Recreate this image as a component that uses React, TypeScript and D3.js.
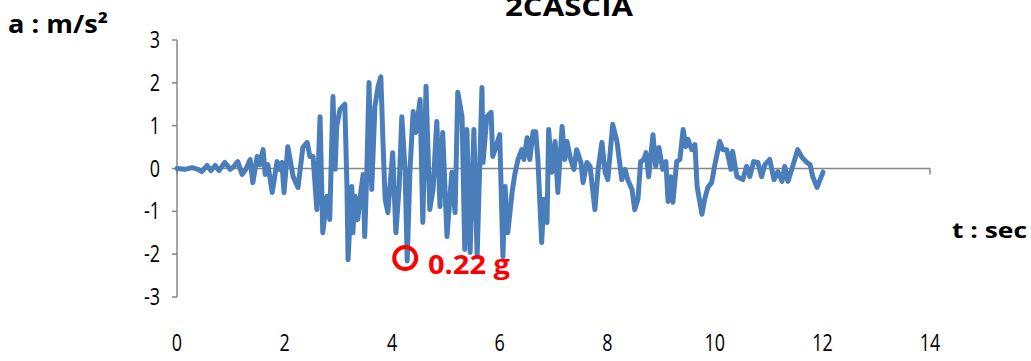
import React from "react";
import * as d3 from "d3";

// Ground acceleration record, 2CASCIA (time in s, acceleration in m/s²)
const timeSec: number[] = [
  0, 0.15, 0.28, 0.39, 0.46, 0.56, 0.63, 0.71, 0.78, 0.89, 0.99, 1.06, 1.13, 1.21, 1.28, 1.36,
  1.41, 1.49, 1.54, 1.6, 1.64, 1.69, 1.77, 1.86, 1.91, 1.95, 1.99, 2.06, 2.16, 2.25, 2.34, 2.42,
  2.47, 2.53, 2.6, 2.66, 2.71, 2.79, 2.84, 2.9, 2.94, 2.97, 3.03, 3.12, 3.16, 3.18, 3.25, 3.27,
  3.31, 3.36, 3.4, 3.46, 3.49, 3.53, 3.57, 3.62, 3.68, 3.74, 3.79, 3.83, 3.87, 3.92, 4.01, 4.07,
  4.13, 4.18, 4.24, 4.28, 4.33, 4.39, 4.44, 4.52, 4.57, 4.63, 4.7, 4.76, 4.83, 4.89, 4.94, 5.02,
  5.11, 5.17, 5.22, 5.3, 5.35, 5.39, 5.45, 5.52, 5.58, 5.67, 5.69, 5.76, 5.84, 5.87, 5.93, 6.0,
  6.06, 6.1, 6.15, 6.23, 6.28, 6.34, 6.41, 6.45, 6.51, 6.56, 6.62, 6.67, 6.71, 6.78, 6.82, 6.88,
  6.91, 6.97, 7.03, 7.08, 7.16, 7.21, 7.25, 7.32, 7.38, 7.43, 7.51, 7.55, 7.62, 7.68, 7.77, 7.83,
  7.9, 7.96, 8.01, 8.1, 8.18, 8.27, 8.33, 8.38, 8.46, 8.51, 8.57, 8.62, 8.68, 8.72, 8.77, 8.85,
  8.9, 8.96, 9.03, 9.09, 9.13, 9.18, 9.22, 9.29, 9.35, 9.41, 9.46, 9.5, 9.57, 9.63, 9.67, 9.76,
  9.81, 9.87, 9.94, 10.0, 10.09, 10.15, 10.22, 10.3, 10.33, 10.41, 10.52, 10.59, 10.65, 10.72,
  10.8, 10.87, 10.93, 11.02, 11.1, 11.17, 11.25, 11.3, 11.36, 11.43, 11.54, 11.62, 11.71, 11.77,
  11.82, 11.9, 12.01,
];

const accel: number[] = [
  0, -0.02, 0.02, -0.02, -0.07, 0.07, -0.05, 0.07, -0.05, 0.14, -0.02, 0.05, 0.16, -0.14, -0.02, 0.21,
  -0.33, 0.28, 0.09, 0.44, -0.14, 0.09, -0.56, 0.16, -0.02, 0.14, -0.56, 0.51, -0.19, -0.44, 0.49, 0.61,
  0.28, 0.28, -0.96, 1.21, -1.5, -0.65, -1.19, 1.68, -0.02, 0.98, 1.38, 1.5, -0.42, -2.13, -0.42, -1.5,
  -0.65, -1.19, -0.72, -0.14, -1.59, -0.02, 2.01, -0.49, 1.45, 1.92, 2.14, 0.61, -0.72, -1.03, 0.37, -1.5,
  -0.42, 1.21, -0.02, -2.16, -0.09, 1.33, 0.84, 1.61, -1.26, 1.92, -0.96, -0.49, 1.1, -0.89, 0.84, -1.59,
  -0.09, -1.03, 1.78, 1.21, -1.89, 0.91, -1.96, 0.91, -2.06, 1.89, 0.14, 1.21, 1.31, 0.28, 0.51, 0.79,
  -2.06, -0.42, -1.5, -0.56, -0.14, 0.21, 0.44, 0.21, 0.72, 0.21, 0.86, 0.86, 0.21, -1.73, -0.72, -1.26,
  0.91, -0.09, 0.63, -0.56, 0.98, 0.21, 0.63, 0.21, -0.02, 0.44, 0.14, -0.33, 0.14, 0.05, -0.96, -0.02,
  0.61, -0.09, -0.26, 1.03, 0.63, -0.26, -0.02, -0.26, -0.49, -0.96, -0.72, 0.16, 0.21, 0.37, -0.19, 0.79,
  0.05, 0.49, -0.02, 0.16, -0.77, -0.19, -0.79, 0.16, 0.21, 0.91, 0.51, 0.68, 0.44, 0.56, -0.42, -1.07,
  -0.72, -0.44, -0.33, 0.09, 0.63, 0.44, 0.44, -0.02, 0.4, -0.19, -0.26, 0.05, -0.19, 0.16,
  0.14, -0.19, 0.09, 0.21, -0.26, -0.07, -0.3, 0.05, -0.3, -0.02, 0.44, 0.26, 0.14, 0.09,
  -0.19, -0.44, -0.09,
];

const xTicks: number[] = [0, 2, 4, 6, 8, 10, 12, 14];
const yTicks: number[] = [-3, -2, -1, 0, 1, 2, 3];

const title = "2CASCIA";
const yTitle = "a : m/s²";
const xTitle = "t : sec";
const pgaG = 0.22;
const pgaLabel = `${pgaG} g`;

const W = 1031;
const H = 361;
const LINE = "#4A7EBB";
const AXIS = "#868686";
const RED = "#FF0000";
const FONT = "'Open Sans', 'Noto Sans', sans-serif";

export default function App() {
  const x = d3.scaleLinear().domain([0, 14]).range([177, 930]);
  const y = d3.scaleLinear().domain([-3, 3]).range([297, 40]);

  const pts: [number, number][] = timeSec.map((t, i) => [t, accel[i]]);
  const line = d3
    .line<[number, number]>()
    .x((d) => x(d[0]))
    .y((d) => y(d[1]));

  // strongest negative peak, highlighted with the PGA note
  const peakIdx = d3.minIndex(accel);
  const px = x(timeSec[peakIdx]);
  const py = y(accel[peakIdx]);

  const y0 = y(0);

  return (
    <svg
      width={W}
      height={H}
      viewBox={`0 0 ${W} ${H}`}
      style={{ position: "absolute", left: 0, top: 0, background: "#fff" }}
    >
      <rect width={W} height={H} fill="#fff" />

      {/* title, partly cut at the top edge */}
      <text
        x={505}
        y={16}
        fontFamily={FONT}
        fontWeight={700}
        fontSize={26}
        textLength={128}
        lengthAdjust="spacingAndGlyphs"
        fill="#000"
      >
        {title}
      </text>

      {/* y axis */}
      <line x1={x(0)} x2={x(0)} y1={y(3)} y2={y(-3)} stroke={AXIS} strokeWidth={1.5} />
      {yTicks.map((v) => (
        <g key={`yt${v}`}>
          <line x1={x(0) - 5} x2={x(0)} y1={y(v)} y2={y(v)} stroke={AXIS} strokeWidth={1.5} />
          <g transform={`translate(${x(0) - 17},${y(v) + 8}) scale(0.78,1.05)`}>
            <text textAnchor="end" fontFamily={FONT} fontSize={23} fill="#000">
              {v}
            </text>
          </g>
        </g>
      ))}

      {/* x axis along a = 0 */}
      <line x1={x(0)} x2={x(14)} y1={y0} y2={y0} stroke={AXIS} strokeWidth={1.5} />
      {xTicks.map((v) => (
        <g key={`xt${v}`}>
          <line x1={x(v)} x2={x(v)} y1={y0} y2={y0 + 6} stroke={AXIS} strokeWidth={1.5} />
          <g transform={`translate(${x(v)},${351}) scale(0.78,1.05)`}>
            <text textAnchor="middle" fontFamily={FONT} fontSize={23} fill="#000">
              {v}
            </text>
          </g>
        </g>
      ))}

      {/* acceleration trace */}
      <path
        d={line(pts) ?? ""}
        fill="none"
        stroke={LINE}
        strokeWidth={5}
        strokeLinejoin="round"
        strokeLinecap="round"
      />

      {/* axis titles */}
      <text
        x={8}
        y={33}
        fontFamily={FONT}
        fontWeight={700}
        fontSize={25}
        textLength={100}
        lengthAdjust="spacingAndGlyphs"
        fill="#000"
      >
        {yTitle}
      </text>
      <text
        x={952}
        y={238}
        fontFamily={FONT}
        fontWeight={700}
        fontSize={22}
        textLength={75}
        lengthAdjust="spacingAndGlyphs"
        fill="#000"
      >
        {xTitle}
      </text>

      {/* PGA marker */}
      <circle cx={px - 2} cy={py - 3} r={11} fill="none" stroke={RED} strokeWidth={4} />
      <text
        x={428}
        y={274}
        fontFamily={FONT}
        fontWeight={700}
        fontSize={26}
        textLength={82}
        lengthAdjust="spacingAndGlyphs"
        fill={RED}
      >
        {pgaLabel}
      </text>
    </svg>
  );
}
